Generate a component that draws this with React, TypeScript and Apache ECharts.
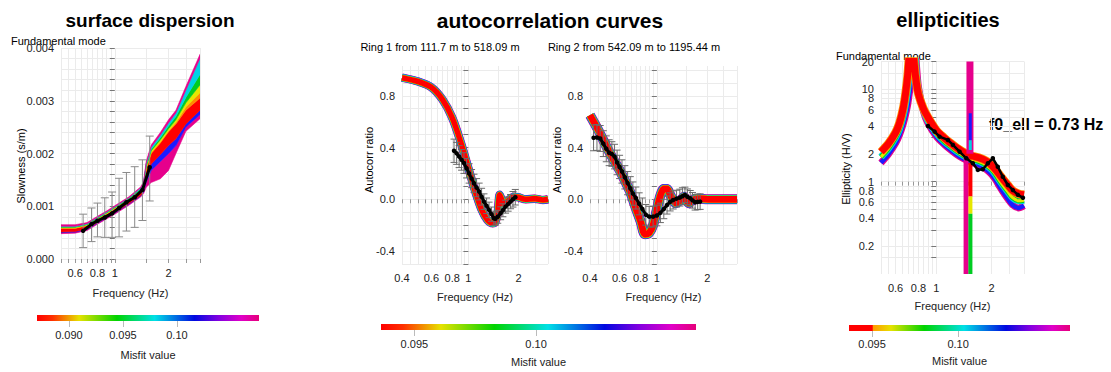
import React, { useEffect, useRef } from "react";
import * as echarts from "echarts";

const FONT = "'Liberation Sans', Arial, Helvetica, sans-serif";

// ---------------- Surface dispersion (fundamental mode) ----------------
const dispFreq = [0.5, 0.6, 0.7, 0.8, 0.9, 1.0, 1.2, 1.4, 1.45, 1.5, 1.6, 1.8, 2.0, 2.2, 2.5, 3.0];
// boundaries of the coloured model band, bottom to top (slowness s/m)
const dispEdgeBottom = [0.00048, 0.00049, 0.00054, 0.00066, 0.00076, 0.00085, 0.00102, 0.00118, 0.00124, 0.00136, 0.00145, 0.00152, 0.00168, 0.00200, 0.00242, 0.00266];
const dispMagentaTop = [0.00050, 0.00051, 0.00056, 0.00068, 0.00078, 0.00087, 0.00104, 0.00120, 0.00127, 0.00146, 0.00168, 0.00185, 0.00200, 0.00215, 0.00250, 0.00274];
const dispBlueTop = [0.00051, 0.00052, 0.00057, 0.00069, 0.00079, 0.00088, 0.00105, 0.00121, 0.00129, 0.00152, 0.00180, 0.00198, 0.00215, 0.00228, 0.00256, 0.00282];
const dispRedTop = [0.00058, 0.00058, 0.00063, 0.00075, 0.00085, 0.00095, 0.00112, 0.00129, 0.00138, 0.00170, 0.00200, 0.00220, 0.00241, 0.00256, 0.00282, 0.00305];
const dispOrangeTop = [0.00059, 0.00059, 0.00064, 0.00076, 0.00086, 0.00096, 0.00113, 0.00130, 0.00139, 0.00172, 0.00202, 0.00222, 0.00243, 0.00259, 0.00288, 0.00315];
const dispYellowTop = [0.00060, 0.00060, 0.00065, 0.00077, 0.00087, 0.00097, 0.00114, 0.00131, 0.00141, 0.00175, 0.00205, 0.00226, 0.00247, 0.00264, 0.00296, 0.00330];
const dispGreenTop = [0.00061, 0.00061, 0.00066, 0.00078, 0.00088, 0.00098, 0.00115, 0.00133, 0.00143, 0.00178, 0.00208, 0.00230, 0.00252, 0.00270, 0.00306, 0.00350];
const dispCyanTop = [0.00062, 0.00062, 0.00067, 0.00079, 0.00089, 0.00099, 0.00116, 0.00135, 0.00145, 0.00181, 0.00212, 0.00235, 0.00258, 0.00277, 0.00320, 0.00380];
const dispEdgeTop = [0.00065, 0.00065, 0.00069, 0.00081, 0.00091, 0.00101, 0.00118, 0.00137, 0.00147, 0.00185, 0.00216, 0.00240, 0.00264, 0.00282, 0.00327, 0.00388];

const dispObsFreq = [0.665, 0.741, 0.8, 0.879, 0.966, 1.057, 1.162, 1.293, 1.428, 1.569];
const dispObsSlow = [0.000534, 0.000662, 0.000725, 0.000788, 0.000865, 0.000967, 0.001075, 0.00117, 0.00131, 0.00174];
const dispObsLow = [0.000216, 0.00033, 0.00042, 0.00041, 0.00041, 0.00042, 0.00053, 0.0006, 0.00073, 0.0011];
const dispObsHigh = [0.00085, 0.000967, 0.00106, 0.00116, 0.00127, 0.00153, 0.00164, 0.00175, 0.00188, 0.00233];

const dispXTicks = [0.5, 0.55, 0.6, 0.65, 0.7, 0.75, 0.8, 0.85, 0.9, 0.95, 1, 1.5, 2, 2.5, 3];
const dispXLabels = [0.6, 0.8, 1, 2];
const dispYTicks = [0, 0.0002, 0.0004, 0.0006, 0.0008, 0.001, 0.0012, 0.0014, 0.0016, 0.0018, 0.002, 0.0022, 0.0024, 0.0026, 0.0028, 0.003, 0.0032, 0.0034, 0.0036, 0.0038, 0.004];
const dispYLabels = [0, 0.001, 0.002, 0.003, 0.004];

// ---------------- Autocorrelation, ring 1 ----------------
const ring1Freq = [0.4, 0.5, 0.6, 0.7, 0.8, 0.9, 1.0, 1.1, 1.2, 1.3, 1.4, 1.45, 1.5, 1.54, 1.58, 1.62, 1.7, 1.8, 1.9, 2.0, 2.2, 2.5, 2.8, 3.0];
const ring1Model = [0.94, 0.91, 0.865, 0.77, 0.63, 0.44, 0.24, 0.06, -0.08, -0.16, -0.185, -0.175, -0.1, 0.035, 0.0, -0.035, -0.02, 0.01, 0.02, 0.015, 0.0, 0.005, -0.005, 0.0];
const ring1ObsFreq = [0.82, 0.85, 0.88, 0.91, 0.94, 0.975, 1.01, 1.045, 1.08, 1.12, 1.16, 1.2, 1.24, 1.285, 1.33, 1.375, 1.42, 1.45, 1.5, 1.56, 1.61, 1.67, 1.73, 1.79, 1.85, 1.91];
const ring1Obs = [0.375, 0.355, 0.33, 0.305, 0.28, 0.24, 0.2, 0.16, 0.124, 0.09, 0.06, 0.02, -0.018, -0.05, -0.082, -0.115, -0.147, -0.15, -0.135, -0.108, -0.085, -0.057, -0.037, -0.018, 0.0, 0.016];
const ring1Err = [0.09, 0.085, 0.085, 0.08, 0.08, 0.075, 0.075, 0.07, 0.07, 0.07, 0.065, 0.065, 0.06, 0.06, 0.06, 0.055, 0.055, 0.05, 0.05, 0.05, 0.05, 0.05, 0.055, 0.055, 0.06, 0.06];

// ---------------- Autocorrelation, ring 2 ----------------
const ring2Freq = [0.4, 0.45, 0.5, 0.55, 0.6, 0.65, 0.7, 0.75, 0.8, 0.85, 0.9, 0.95, 1.0, 1.05, 1.1, 1.15, 1.2, 1.3, 1.4, 1.45, 1.5, 1.55, 1.6, 1.8, 2.0, 2.5, 3.0];
const ring2Model = [0.65, 0.53, 0.41, 0.31, 0.225, 0.135, 0.045, -0.07, -0.17, -0.27, -0.26, -0.2, -0.08, 0.03, 0.08, 0.08, 0.035, -0.03, 0.0, 0.02, -0.01, -0.03, -0.01, 0.005, 0.0, 0.0, 0.0];
const ring2ObsFreq = [0.42, 0.44, 0.46, 0.48, 0.5, 0.52, 0.54, 0.56, 0.58, 0.6, 0.62, 0.645, 0.67, 0.695, 0.72, 0.75, 0.785, 0.82, 0.86, 0.9, 0.95, 1.0, 1.05, 1.1, 1.15, 1.2, 1.25, 1.31, 1.37, 1.42, 1.47, 1.52, 1.58, 1.63, 1.69, 1.75, 1.81];
const ring2Obs = [0.475, 0.478, 0.47, 0.43, 0.39, 0.36, 0.35, 0.33, 0.285, 0.25, 0.215, 0.17, 0.125, 0.085, 0.044, 0.01, -0.035, -0.075, -0.12, -0.134, -0.134, -0.125, -0.105, -0.075, -0.044, -0.02, -0.005, 0.005, 0.013, 0.024, 0.034, 0.02, 0.008, -0.008, -0.023, -0.02, -0.018];
const ring2Err = [0.1, 0.1, 0.1, 0.1, 0.1, 0.1, 0.095, 0.095, 0.095, 0.09, 0.09, 0.09, 0.09, 0.09, 0.09, 0.085, 0.085, 0.085, 0.08, 0.08, 0.08, 0.08, 0.075, 0.075, 0.07, 0.07, 0.07, 0.065, 0.065, 0.065, 0.06, 0.06, 0.06, 0.06, 0.06, 0.06, 0.06];

const ringXTicks = [0.4, 0.45, 0.5, 0.55, 0.6, 0.65, 0.7, 0.75, 0.8, 0.85, 0.9, 0.95, 1, 1.5, 2, 2.5, 3];
const ringXLabels = [0.4, 0.6, 0.8, 1, 2];
const ringYTicks = [-0.5, -0.4, -0.3, -0.2, -0.1, 0, 0.1, 0.2, 0.3, 0.4, 0.5, 0.6, 0.7, 0.8, 0.9, 1.0];
const ringYLabels = [-0.4, 0, 0.4, 0.8];

// ---------------- Ellipticity ----------------
const ellFreq = [0.5, 0.55, 0.6, 0.63, 0.66, 0.68, 0.7, 0.72, 0.73, 0.74, 0.76, 0.78, 0.8, 0.85, 0.9, 1.0, 1.1, 1.2, 1.3, 1.4, 1.45, 1.5, 1.55, 1.6, 1.7, 1.8, 1.9, 2.0, 2.1, 2.2, 2.3, 2.45, 2.6, 2.8, 3.0];
const ellBest = [2.1, 2.6, 3.4, 4.3, 6.2, 9.0, 15, 35, 60, 40, 18, 11.5, 8.8, 6.2, 5.0, 3.6, 3.0, 2.6, 2.3, 2.1, 2.0, 1.95, 1.9, 1.88, 1.82, 1.74, 1.64, 1.5, 1.35, 1.2, 1.07, 0.92, 0.8, 0.74, 0.72];
const ellMid = [1.85, 2.3, 3.0, 3.7, 5.1, 7.0, 10.5, 20, 30, 30, 28, 14, 9.6, 6.0, 4.6, 3.35, 2.75, 2.4, 2.12, 1.93, 1.85, 1.8, 1.75, 1.72, 1.66, 1.58, 1.47, 1.35, 1.2, 1.04, 0.92, 0.78, 0.67, 0.62, 0.63];
const ellWorst = [1.6, 2.0, 2.6, 3.2, 4.2, 5.3, 7.0, 10.5, 13, 18, 40, 18, 10.5, 5.8, 4.3, 3.1, 2.55, 2.2, 1.95, 1.78, 1.72, 1.68, 1.62, 1.58, 1.52, 1.43, 1.32, 1.2, 1.05, 0.9, 0.78, 0.65, 0.56, 0.52, 0.55];
const ellSpikeMagentaUp = [[1.524, 2.0], [1.524, 20]];
const ellSpikeBlue = [[1.53, 2.8], [1.53, 5.5]];
const ellSpikeCyan = [[1.53, 2.2], [1.53, 2.8]];
const ellSpikeMagentaLow = [[1.452, 1.9], [1.452, 0.1]];
const ellSpikeRed = [[1.533, 1.6], [1.533, 0.69]];
const ellSpikeYellow = [[1.533, 0.69], [1.533, 0.45]];
const ellSpikeGreen = [[1.533, 0.45], [1.533, 0.1]];
const ellObsFreq = [0.9, 0.979, 1.042, 1.156, 1.231, 1.339, 1.456, 1.58, 1.683, 1.79, 1.908, 2.03, 2.16, 2.3, 2.45, 2.61, 2.78, 2.96];
const ellObs = [4.0, 3.48, 3.07, 2.83, 2.5, 2.11, 1.79, 1.58, 1.34, 1.36, 1.58, 1.79, 1.45, 1.13, 0.92, 0.81, 0.72, 0.67];

const ellXTicks = [0.5, 0.55, 0.6, 0.65, 0.7, 0.75, 0.8, 0.85, 0.9, 0.95, 1, 1.5, 2, 2.5, 3];
const ellXLabels = [0.6, 0.8, 1, 2];
const ellYTicks = [0.15, 0.2, 0.3, 0.4, 0.5, 0.6, 0.7, 0.8, 0.9, 1, 1.5, 2, 3, 4, 5, 6, 7, 8, 9, 10, 15, 20];
const ellYLabels = [0.2, 0.4, 0.6, 0.8, 1, 2, 4, 6, 8, 10, 20];

// ---------------- Misfit colour bars ----------------
const misfitRange1 = [0.08704, 0.1076];
const misfitRange2 = [0.09363, 0.10657];
const misfitRange3 = [0.09366, 0.1065];
const misfitTicks1 = [0.09, 0.095, 0.1];
const misfitTickText1 = ["0.090", "0.095", "0.10"];
const misfitTicks2 = [0.095, 0.1];
const misfitTickText2 = ["0.095", "0.10"];

// ---------------- styling ----------------
const MAG = "#e6008c";
const BLUE = "#1a1aff";
const CYAN = "#00d2e6";
const GREEN = "#00cc22";
const YELLOW = "#e6e600";
const ORANGE = "#ff8c00";
const RED = "#ff0000";
const GRID_COLOR = "#ebebeb";
const LABEL_COLOR = "#222";
const STOPS = [
  { offset: 0, color: "#ff0000" },
  { offset: 0.07, color: "#ff3000" },
  { offset: 0.19, color: "#e6e200" },
  { offset: 0.36, color: "#00d400" },
  { offset: 0.53, color: "#00e0e6" },
  { offset: 0.71, color: "#0008e0" },
  { offset: 0.82, color: "#8400e0" },
  { offset: 0.92, color: "#e000c8" },
  { offset: 1, color: "#e6007a" },
];
const STOPS_RED_BLOCK = [
  { offset: 0, color: "#ff0000" },
  { offset: 0.105, color: "#ff0000" },
  { offset: 0.11, color: "#ff9a00" },
  { offset: 0.19, color: "#e6e200" },
  { offset: 0.34, color: "#00d400" },
  { offset: 0.52, color: "#00e0e6" },
  { offset: 0.71, color: "#0008e0" },
  { offset: 0.82, color: "#8400e0" },
  { offset: 0.92, color: "#e000c8" },
  { offset: 1, color: "#e6007a" },
];

const lg = (v: number) => Math.log10(v);
const fmtLog = (v: number) => String(parseFloat(Math.pow(10, v).toPrecision(2)));
const pts = (xs: number[], ys: number[], logY = false) => xs.map((x, i) => [lg(x), logY ? lg(ys[i]) : ys[i]]);
const segPts = (seg: number[][]) => seg.map((p) => [lg(p[0]), lg(p[1])]);

function freqAxis(grid: number, min: number, max: number, ticks: number[], labels: number[], margin: number, nameGap: number) {
  return {
    type: "value", gridIndex: grid, min: lg(min), max: lg(max),
    name: "Frequency (Hz)", nameLocation: "middle", nameGap,
    nameTextStyle: { fontSize: 11, color: LABEL_COLOR, fontFamily: FONT },
    axisLine: { show: false },
    axisTick: { show: true, customValues: ticks.map(lg), length: 4, lineStyle: { color: "#999", width: 1 } },
    axisLabel: { customValues: labels.map(lg), formatter: fmtLog, margin, fontSize: 11, color: LABEL_COLOR, fontFamily: FONT },
    splitLine: { show: true, lineStyle: { color: GRID_COLOR, width: 1 } },
  };
}

function valueYAxis(grid: number, min: number, max: number, ticks: number[], labels: number[], formatter: (v: number) => string) {
  return {
    type: "value", gridIndex: grid, min, max,
    axisLine: { show: false },
    axisTick: { show: true, customValues: ticks, length: 5, lineStyle: { color: "#777", width: 1 } },
    axisLabel: { customValues: labels, formatter, margin: 7, fontSize: 11, color: LABEL_COLOR, fontFamily: FONT },
    splitLine: { show: true, lineStyle: { color: GRID_COLOR, width: 1 } },
  };
}

function misfitAxis(grid: number, range: number[], ticks: number[], texts: string[], margin: number, nameGap: number) {
  return {
    type: "value", gridIndex: grid, min: range[0], max: range[1],
    name: "Misfit value", nameLocation: "middle", nameGap,
    nameTextStyle: { fontSize: 11, color: LABEL_COLOR, fontFamily: FONT },
    axisLine: { show: false },
    axisTick: { show: true, customValues: ticks, length: 6, lineStyle: { color: "#bbb", width: 1 } },
    axisLabel: {
      customValues: ticks, margin, fontSize: 11, color: LABEL_COLOR, fontFamily: FONT,
      formatter: (v: number) => texts[ticks.findIndex((t) => Math.abs(t - v) < 1e-9)] ?? "",
    },
    splitLine: { show: false },
  };
}

function line(data: number[][], color: string, width: number, xi: number, smooth: number | boolean = 0.3, z = 2) {
  return {
    type: "line", data, xAxisIndex: xi, yAxisIndex: xi, showSymbol: false, symbol: "none", smooth,
    lineStyle: { color, width, cap: "butt", join: "round" }, silent: true, z, clip: true,
  };
}

function layered(data: number[][], xi: number, layers: [string, number][]) {
  return layers.map(([c, w]) => line(data, c, w, xi));
}

// filled regions between consecutive boundary curves, through the axes' scales
function bandPolygons(xs: number[], bounds: number[][], fills: string[], xi: number) {
  return {
    type: "custom", xAxisIndex: xi, yAxisIndex: xi, silent: true, z: 2, clip: true,
    data: fills.map((_, k) => [lg(xs[0]), bounds[k][0]]),
    encode: { x: 0, y: 1 },
    renderItem: (params: any, api: any) => {
      const k = params.dataIndex;
      const top = xs.map((x, i) => api.coord([lg(x), bounds[k + 1][i]]));
      const bot = xs.map((x, i) => api.coord([lg(x), bounds[k][i]])).reverse();
      return {
        type: "polygon",
        shape: { points: top.concat(bot) },
        style: { fill: fills[k], stroke: fills[k], lineWidth: 0.6 },
      };
    },
  };
}

function errorBars(xs: number[], lo: number[], hi: number[], xi: number, color: string, cap: number) {
  return {
    type: "custom", xAxisIndex: xi, yAxisIndex: xi, silent: true, z: 3,
    data: xs.map((x, i) => [lg(x), lo[i], hi[i]]),
    encode: { x: 0, y: [1, 2] },
    renderItem: (params: any, api: any) => {
      const x = api.value(0);
      const p1 = api.coord([x, api.value(1)]);
      const p2 = api.coord([x, api.value(2)]);
      const st = { stroke: color, lineWidth: 1, fill: "none" };
      return {
        type: "group",
        children: [
          { type: "line", shape: { x1: p1[0], y1: p1[1], x2: p2[0], y2: p2[1] }, style: st },
          { type: "line", shape: { x1: p1[0] - cap, y1: p1[1], x2: p1[0] + cap, y2: p1[1] }, style: st },
          { type: "line", shape: { x1: p2[0] - cap, y1: p2[1], x2: p2[0] + cap, y2: p2[1] }, style: st },
        ],
      };
    },
  };
}

function obsLine(data: number[][], xi: number, width: number) {
  return {
    type: "line", data, xAxisIndex: xi, yAxisIndex: xi, smooth: false, symbol: "circle", symbolSize: 4.5, showSymbol: true,
    itemStyle: { color: "#000" }, lineStyle: { color: "#000", width }, silent: true, z: 4,
  };
}

function colorBar(range: number[], xi: number, stops: any[]) {
  return {
    type: "custom", xAxisIndex: xi, yAxisIndex: xi, silent: true,
    data: [[range[0], range[1], 0, 1]],
    encode: { x: [0, 1], y: [2, 3] },
    renderItem: (params: any, api: any) => {
      const a = api.coord([api.value(0), api.value(3)]);
      const b = api.coord([api.value(1), api.value(2)]);
      return {
        type: "rect",
        shape: { x: a[0], y: a[1], width: b[0] - a[0], height: b[1] - a[1] },
        style: { fill: new echarts.graphic.LinearGradient(0, 0, 1, 0, stops) },
      };
    },
  };
}

function txt(text: string, x: number, y: number, size: number, bold = false, align = "center", rotate = false) {
  const font = `${bold ? "bold " : ""}${size}px ${FONT}`;
  return {
    type: "text", x, y, rotation: rotate ? Math.PI / 2 : 0, silent: true,
    style: { text, font, fill: "#000", align, verticalAlign: "middle", textAlign: align, textVerticalAlign: "middle" },
  };
}

function buildOption() {
  const ringLayers: [string, number][] = [[MAG, 8.5], [BLUE, 7.8], [CYAN, 7.2], [GREEN, 6.6], [YELLOW, 6.1], [RED, 5.6]];
  const ring2Layers: [string, number][] = [[MAG, 10], [BLUE, 9.2], [CYAN, 8.5], [GREEN, 7.8], [YELLOW, 7.3], [RED, 6.8]];

  const series: any[] = [
    // dispersion band
    bandPolygons(
      dispFreq,
      [dispEdgeBottom, dispMagentaTop, dispBlueTop, dispRedTop, dispOrangeTop, dispYellowTop, dispGreenTop, dispCyanTop, dispEdgeTop],
      [MAG, BLUE, RED, ORANGE, YELLOW, GREEN, CYAN, MAG],
      0
    ),
    errorBars(dispObsFreq, dispObsLow, dispObsHigh, 0, "#8a8a8a", 4),
    obsLine(pts(dispObsFreq, dispObsSlow), 0, 3),

    // ring 1
    ...layered(pts(ring1Freq, ring1Model), 1, ringLayers),
    errorBars(ring1ObsFreq, ring1Obs.map((v, i) => v - ring1Err[i]), ring1Obs.map((v, i) => v + ring1Err[i]), 1, "#6a6a6a", 3.5),
    obsLine(pts(ring1ObsFreq, ring1Obs), 1, 3),

    // ring 2
    ...layered(pts(ring2Freq, ring2Model), 2, ring2Layers),
    errorBars(ring2ObsFreq, ring2Obs.map((v, i) => v - ring2Err[i]), ring2Obs.map((v, i) => v + ring2Err[i]), 2, "#6a6a6a", 3.5),
    obsLine(pts(ring2ObsFreq, ring2Obs), 2, 3),

    // ellipticity
    line(pts(ellFreq, ellWorst, true), MAG, 7, 3),
    line(pts(ellFreq, ellWorst, true), BLUE, 4.5, 3),
    line(pts(ellFreq, ellMid, true), CYAN, 7, 3),
    line(pts(ellFreq, ellMid, true), GREEN, 5, 3),
    line(pts(ellFreq, ellMid, true), YELLOW, 3, 3),
    line(pts(ellFreq, ellBest, true), ORANGE, 8.5, 3),
    line(pts(ellFreq, ellBest, true), RED, 7, 3),
    line(segPts(ellSpikeMagentaLow), MAG, 5, 3, false, 3),
    line(segPts(ellSpikeMagentaUp), MAG, 7, 3, false, 3),
    line(segPts(ellSpikeBlue), BLUE, 3, 3, false, 3),
    line(segPts(ellSpikeCyan), CYAN, 3, 3, false, 3),
    line(segPts(ellSpikeRed), RED, 4, 3, false, 3),
    line(segPts(ellSpikeYellow), YELLOW, 4, 3, false, 3),
    line(segPts(ellSpikeGreen), GREEN, 4, 3, false, 3),
    obsLine(pts(ellObsFreq, ellObs, true), 3, 2.5),

    // colour bars
    colorBar(misfitRange1, 4, STOPS),
    colorBar(misfitRange2, 5, STOPS),
    colorBar(misfitRange3, 6, STOPS_RED_BLOCK),
  ];

  const hiddenY = (g: number) => ({ type: "value", gridIndex: g, min: 0, max: 1, show: false });

  return {
    animation: false,
    backgroundColor: "#fff",
    textStyle: { fontFamily: FONT },
    grid: [
      { left: 61, top: 48, width: 139, height: 211, outerBoundsMode: "none" },
      { left: 402, top: 66, width: 146, height: 198, outerBoundsMode: "none" },
      { left: 590, top: 66, width: 147, height: 198, outerBoundsMode: "none" },
      { left: 881, top: 61.5, width: 143, height: 212.5, outerBoundsMode: "none" },
      { left: 37, top: 315, width: 222, height: 6, outerBoundsMode: "none" },
      { left: 381, top: 324, width: 315, height: 6, outerBoundsMode: "none" },
      { left: 849, top: 325, width: 221, height: 6, outerBoundsMode: "none" },
    ],
    xAxis: [
      freqAxis(0, 0.5, 3, dispXTicks, dispXLabels, 8.5, 28),
      freqAxis(1, 0.4, 3, ringXTicks, ringXLabels, 8, 27),
      freqAxis(2, 0.4, 3, ringXTicks, ringXLabels, 8, 27),
      freqAxis(3, 0.5, 3, ellXTicks, ellXLabels, 8, 26),
      misfitAxis(4, misfitRange1, misfitTicks1, misfitTickText1, 8.5, 28.5),
      misfitAxis(5, misfitRange2, misfitTicks2, misfitTickText2, 8.5, 26.5),
      misfitAxis(6, misfitRange3, misfitTicks2, misfitTickText2, 7.5, 24.5),
    ],
    yAxis: [
      valueYAxis(0, 0, 0.004, dispYTicks, dispYLabels, (v) => v.toFixed(3)),
      valueYAxis(1, -0.5, 1.03, ringYTicks, ringYLabels, (v) => v.toFixed(1)),
      valueYAxis(2, -0.5, 1.03, ringYTicks, ringYLabels, (v) => v.toFixed(1)),
      valueYAxis(3, lg(0.1), lg(20), ellYTicks.map(lg), ellYLabels.map(lg), fmtLog),
      hiddenY(4),
      hiddenY(5),
      hiddenY(6),
    ],
    graphic: [
      txt("surface dispersion", 150, 20, 19, true),
      txt("autocorrelation curves", 550, 20, 21, true),
      txt("ellipticities", 948, 20, 20, true),
      txt("Fundamental mode", 11, 41, 11, false, "left"),
      txt("Fundamental mode", 836, 56, 11, false, "left"),
      txt("Ring 1 from 111.7 m to 518.09 m", 440, 47, 11),
      txt("Ring 2 from 542.09 m to 1195.44 m", 634, 47, 11),
      txt("f0_ell = 0.73 Hz", 989, 124, 16, true, "left"),
      txt("Slowness (s/m)", 20.5, 166, 11, false, "center", true),
      txt("Autocorr ratio", 369, 160, 11, false, "center", true),
      txt("Autocorr ratio", 557, 160, 11, false, "center", true),
      txt("Ellipticity (H/V)", 845.5, 169, 11, false, "center", true),
    ],
    series,
  };
}

export default function App() {
  const ref = useRef<HTMLDivElement>(null);
  useEffect(() => {
    if (!ref.current) return;
    const chart = echarts.init(ref.current, null, { renderer: "svg" });
    chart.setOption(buildOption() as any);
    return () => chart.dispose();
  }, []);
  return (
    <div
      ref={ref}
      style={{ position: "absolute", left: 0, top: 0, width: 1111, height: 372, background: "#fff" }}
    />
  );
}
